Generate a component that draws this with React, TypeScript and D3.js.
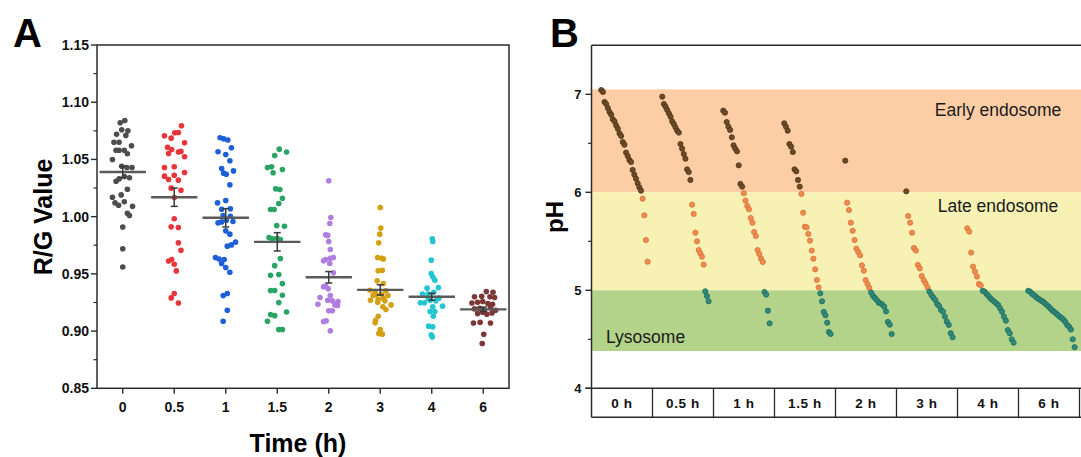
import React from "react";
import * as d3 from "d3";

// ---------- Panel A data ----------
const timeCategories = ["0", "0.5", "1", "1.5", "2", "3", "4", "6"];
// each point: [horizontal jitter (fraction of band), R/G value]
const rg0: [number, number][] = [[-0.05,1.082],[0.04,1.084],[-0.02,1.076],[0.10,1.075],[-0.12,1.072],[0.06,1.071],[-0.17,1.065],[-0.07,1.065],[0.17,1.062],[-0.13,1.058],[-0.07,1.058],[0.03,1.058],[0.09,1.055],[-0.20,1.050],[-0.02,1.044],[0.08,1.043],[0.18,1.043],[-0.13,1.031],[-0.07,1.033],[0.03,1.035],[0.13,1.034],[0.09,1.024],[-0.20,1.017],[-0.03,1.019],[-0.15,1.012],[-0.08,1.010],[0.03,1.013],[0.19,1.009],[0.09,1.003],[0.13,1.001],[0.00,0.991],[0.00,0.972],[0.00,0.956]];
const rg05: [number, number][] = [[0.14,1.0794],[-0.19,1.0707],[-0.06,1.0686],[0.01,1.0733],[0.08,1.0736],[0.20,1.0645],[-0.13,1.0607],[-0.05,1.0587],[-0.11,1.0552],[0.08,1.0564],[0.13,1.0570],[0.20,1.0523],[-0.19,1.0430],[0.00,1.0435],[-0.19,1.0354],[-0.11,1.0325],[0.00,1.0362],[0.08,1.0319],[0.20,1.0386],[-0.06,1.0249],[0.13,1.0231],[0.00,1.0167],[0.00,0.9981],[-0.06,0.9911],[0.08,0.9905],[0.08,0.9771],[0.13,0.9707],[-0.11,0.9613],[-0.05,0.9625],[0.00,0.9584],[0.04,0.9526],[0.00,0.9328],[-0.06,0.9290],[0.08,0.9246]];
const rg1: [number, number][] = [[-0.11,1.0689],[-0.04,1.068],[0.04,1.067],[0.11,1.0602],[-0.15,1.0567],[0.00,1.0543],[0.08,1.0488],[-0.08,1.042],[-0.04,1.038],[0.01,1.037],[0.15,1.040],[0.08,1.0278],[-0.16,1.012],[0.00,1.0141],[-0.08,1.0065],[0.09,1.0068],[-0.15,0.9946],[-0.08,0.9954],[0.01,0.9969],[0.14,0.9957],[0.09,1.0004],[-0.05,1.001],[0.00,0.9876],[0.08,0.9847],[0.03,0.9742],[0.11,0.9753],[0.19,0.9777],[-0.20,0.9642],[-0.13,0.963],[-0.08,0.959],[-0.03,0.9625],[0.00,0.9555],[0.08,0.9514],[-0.05,0.931],[0.03,0.9328],[0.03,0.9182],[-0.05,0.9086]];
const rg15: [number, number][] = [[0.04,1.059],[0.18,1.0564],[-0.05,1.0535],[-0.19,1.043],[-0.11,1.0435],[-0.08,1.0383],[0.10,1.0412],[-0.03,1.0243],[0.05,1.0237],[0.10,1.0161],[0.03,1.0115],[-0.13,1.0062],[-0.06,1.0062],[-0.01,0.9922],[0.14,0.9916],[-0.16,0.9817],[-0.09,0.9806],[0.00,0.9811],[0.06,0.98],[0.06,0.9634],[-0.05,0.9572],[-0.13,0.9488],[0.03,0.9494],[0.10,0.9415],[-0.13,0.9354],[-0.05,0.9354],[0.10,0.9313],[0.03,0.9249],[-0.13,0.9144],[-0.05,0.9135],[0.18,0.9167],[-0.19,0.9086],[0.03,0.9013],[0.10,0.9013]];
const rg2: [number, number][] = [[0.00,1.0314],[0.04,0.9993],[0.02,0.994],[-0.06,0.9841],[-0.02,0.9836],[0.00,0.9783],[0.03,0.9713],[-0.10,0.9614],[-0.06,0.9626],[0.03,0.9637],[0.09,0.9643],[0.02,0.9591],[0.09,0.9509],[-0.10,0.9387],[-0.06,0.9392],[-0.01,0.9369],[-0.17,0.9293],[0.03,0.931],[-0.02,0.927],[0.07,0.9264],[0.18,0.9258],[0.12,0.9229],[0.17,0.9223],[-0.21,0.9235],[0.00,0.9177],[0.07,0.9177],[-0.10,0.9083],[-0.05,0.909],[0.03,0.9002]];
const rg3: [number, number][] = [[0.00,1.008],[0.01,0.99],[-0.01,0.9847],[-0.03,0.9771],[-0.05,0.9643],[0.03,0.9637],[0.06,0.9631],[-0.04,0.9527],[0.04,0.9532],[-0.06,0.9439],[0.06,0.9416],[-0.20,0.9357],[-0.10,0.9346],[0.11,0.9352],[-0.14,0.9311],[-0.08,0.9317],[0.03,0.9322],[0.06,0.9287],[-0.19,0.927],[-0.04,0.9276],[0.15,0.9311],[-0.05,0.9253],[0.09,0.9264],[0.21,0.9229],[0.05,0.9212],[0.11,0.9188],[-0.04,0.913],[-0.09,0.9095],[-0.10,0.9072],[0.00,0.9013],[-0.03,0.8978],[0.04,0.8973]];
const rg4: [number, number][] = [[0.01,0.9806],[0.02,0.9783],[-0.01,0.962],[-0.01,0.9503],[0.02,0.9474],[0.06,0.9445],[-0.09,0.9375],[0.13,0.9381],[-0.18,0.9323],[-0.07,0.9323],[0.04,0.934],[-0.22,0.9247],[-0.14,0.9247],[-0.03,0.927],[0.08,0.9264],[0.14,0.9288],[-0.07,0.9288],[0.02,0.9212],[0.21,0.9218],[-0.03,0.9171],[0.06,0.9171],[0.03,0.913],[-0.06,0.9043],[0.02,0.9037],[-0.01,0.8967],[0.01,0.8949]];
const rg6: [number, number][] = [[0.06,0.9345],[0.19,0.934],[-0.17,0.9299],[-0.03,0.9305],[0.13,0.9299],[0.22,0.9293],[-0.22,0.9246],[-0.11,0.9252],[-0.01,0.9258],[0.09,0.924],[0.18,0.9235],[-0.17,0.9194],[-0.07,0.92],[0.02,0.9182],[0.14,0.9206],[0.24,0.9182],[-0.11,0.9153],[-0.01,0.9165],[0.07,0.9147],[0.17,0.9159],[-0.19,0.9071],[-0.06,0.9077],[0.14,0.9071],[0.01,0.8972],[-0.02,0.8891]];
const rgGroups = [rg0, rg05, rg1, rg15, rg2, rg3, rg4, rg6];
const rgMeans = [1.039, 1.017, 0.999, 0.978, 0.947, 0.936, 0.930, 0.919];
const rgSems = [0.005, 0.008, 0.008, 0.008, 0.005, 0.0045, 0.003, 0.002];
const rgTicks = [0.85, 0.9, 0.95, 1.0, 1.05, 1.1, 1.15];
const rgMinorTicks = [0.875, 0.925, 0.975, 1.025, 1.075, 1.125];

// ---------- Panel B data ----------
const timeLabelsB = ["0 h", "0.5 h", "1 h", "1.5 h", "2 h", "3 h", "4 h", "6 h"];
const ph0 = [7.044,7.024,6.922,6.901,6.860,6.819,6.792,6.745,6.724,6.683,6.649,6.602,6.575,6.513,6.486,6.405,6.370,6.330,6.309,6.228,6.180,6.139,6.092,6.051,6.017,5.935,5.765,5.513,5.292];
const ph05 = [6.976,6.901,6.874,6.840,6.806,6.772,6.724,6.697,6.663,6.629,6.609,6.493,6.445,6.391,6.343,6.234,6.207,6.126,5.874,5.779,5.588,5.500,5.411,5.377,5.343,5.262,4.990,4.942,4.888];
const ph1 = [6.833,6.813,6.717,6.670,6.636,6.561,6.479,6.445,6.418,6.275,6.085,6.058,5.990,5.915,5.860,5.826,5.738,5.690,5.595,5.554,5.411,5.370,5.323,5.289,4.983,4.956,4.792,4.663];
const ph15 = [6.704,6.670,6.629,6.493,6.466,6.411,6.234,6.214,6.126,6.058,5.983,5.792,5.649,5.643,5.575,5.507,5.405,5.323,5.214,5.105,5.030,4.969,4.888,4.779,4.745,4.670,4.575,4.554];
const ph2 = [6.323,5.894,5.819,5.690,5.608,5.513,5.425,5.391,5.357,5.255,5.200,5.105,5.064,5.024,4.976,4.942,4.922,4.901,4.874,4.867,4.854,4.833,4.785,4.677,4.649,4.554];
const ph3 = [6.010,5.758,5.690,5.588,5.432,5.405,5.259,5.224,5.146,5.105,5.071,5.031,4.987,4.953,4.926,4.902,4.861,4.841,4.800,4.783,4.732,4.681,4.647,4.562,4.521];
const ph4 = [5.633,5.599,5.385,5.242,5.191,5.140,5.065,5.051,4.995,4.986,4.962,4.942,4.918,4.901,4.884,4.867,4.850,4.816,4.782,4.731,4.690,4.595,4.561,4.500,4.466];
const ph6 = [4.995,4.986,4.965,4.952,4.935,4.918,4.908,4.894,4.884,4.867,4.850,4.833,4.813,4.795,4.780,4.765,4.748,4.731,4.717,4.700,4.677,4.646,4.629,4.600,4.500,4.420];
const phGroups = [ph0, ph05, ph1, ph15, ph2, ph3, ph4, ph6];
const phTicks = [4, 5, 6, 7];
const phMinorTicks = [4.5, 5.5, 6.5];
const zoneNames = ["Early endosome", "Late endosome", "Lysosome"];
const zoneRanges: [number, number][] = [[6, 7.05], [5, 6], [4.38, 5]];

// ---------- styles ----------
const FONT = "'Liberation Sans', Arial, Helvetica, sans-serif";
const groupColors = ["#4d4d4d", "#e8353a", "#1c5fd6", "#29a465", "#b07de0", "#d4a013", "#22c5d2", "#7c3838"];
const zoneColors = ["#fdcea6", "#f7f2b4", "#b3d38a"];
const phColor = (v: number) => (v >= 6 ? ["#6e4b26", "#4b3318"] : v >= 5 ? ["#f08c50", "#d8703a"] : ["#2f8b7b", "#1f6b5d"]);

export default function App() {
  // Panel A scales
  const leftA = 97, rightA = 509, topA = 45, bottomA = 388.3;
  const xA = d3.scaleBand<string>().domain(timeCategories).range([leftA, rightA]).padding(0);
  const yA = d3.scaleLinear().domain([0.85, 1.15]).range([bottomA, topA]);
  const bwA = xA.bandwidth();
  const cA = (i: number) => (xA(timeCategories[i]) as number) + bwA / 2;

  // Panel B scales
  const leftB = 591.5, segW = 61;
  const xB = d3.scaleBand<string>().domain(timeLabelsB).range([leftB, leftB + 8 * segW]).padding(0);
  const yB = d3.scaleLinear().domain([4, 7.5]).range([388.3, 45.3]);
  const bwB = xB.bandwidth();
  const frameRightB = 1095;
  const boxBottom = 417.3;
  const axisColor = "#2b2b2b";

  return (
    <svg width={1081} height={457} style={{ position: "absolute", left: 0, top: 0, background: "#fff" }} fontFamily={FONT}>
      {/* ================= Panel A ================= */}
      <text x={13} y={47} fontSize={40} fontWeight="bold" fill="#000">A</text>
      {rgGroups.map((pts, gi) =>
        pts.map(([off, v], k) => (
          <circle key={`a${gi}-${k}`} cx={cA(gi) + off * bwA} cy={yA(v)} r={2.8} fill={groupColors[gi]} />
        ))
      )}
      {rgMeans.map((m, i) => {
        const cx = cA(i);
        const hi = yA(m + rgSems[i]);
        const lo = yA(m - rgSems[i]);
        const hw = 0.45 * bwA;
        return (
          <g key={`m${i}`}>
            <line x1={cx - hw} x2={cx + hw} y1={yA(m)} y2={yA(m)} stroke="#5a5a5a" strokeWidth={2.4} />
            <line x1={cx} x2={cx} y1={hi} y2={lo} stroke="#3a3a3a" strokeWidth={1.5} />
            <line x1={cx - 3.5} x2={cx + 3.5} y1={hi} y2={hi} stroke="#3a3a3a" strokeWidth={1.5} />
            <line x1={cx - 3.5} x2={cx + 3.5} y1={lo} y2={lo} stroke="#3a3a3a" strokeWidth={1.5} />
          </g>
        );
      })}
      <rect x={leftA} y={topA} width={rightA - leftA} height={bottomA - topA} fill="none" stroke={axisColor} strokeWidth={1.5} />
      {rgTicks.map((t) => (
        <g key={`ya${t}`}>
          <line x1={leftA - 6} x2={leftA} y1={yA(t)} y2={yA(t)} stroke={axisColor} strokeWidth={1.4} />
          <text x={leftA - 8} y={yA(t) + 5} fontSize={14} fontWeight="bold" textAnchor="end" fill="#111">
            {d3.format(".2f")(t)}
          </text>
        </g>
      ))}
      {rgMinorTicks.map((t) => (
        <line key={`yam${t}`} x1={leftA - 3.5} x2={leftA} y1={yA(t)} y2={yA(t)} stroke={axisColor} strokeWidth={1.2} />
      ))}
      {timeCategories.map((c, i) => (
        <g key={`xa${c}`}>
          <line x1={cA(i)} x2={cA(i)} y1={bottomA} y2={bottomA + 5.5} stroke={axisColor} strokeWidth={1.4} />
          <text x={cA(i)} y={411.5} fontSize={14} fontWeight="bold" textAnchor="middle" fill="#111">{c}</text>
        </g>
      ))}
      <text transform="translate(52,217) rotate(-90)" fontSize={25} fontWeight="bold" textAnchor="middle" fill="#000">R/G Value</text>
      <text x={298} y={452} fontSize={25} fontWeight="bold" textAnchor="middle" fill="#000">Time (h)</text>

      {/* ================= Panel B ================= */}
      <text x={550} y={47} fontSize={40} fontWeight="bold" fill="#000">B</text>
      {zoneRanges.map(([a, b], i) => (
        <rect key={`z${i}`} x={leftB} y={yB(b)} width={frameRightB - leftB} height={yB(a) - yB(b)} fill={zoneColors[i]} />
      ))}
      <text x={998} y={116} fontSize={17.5} textAnchor="middle" fill="#1a1a1a">{zoneNames[0]}</text>
      <text x={998} y={212} fontSize={17.5} textAnchor="middle" fill="#1a1a1a">{zoneNames[1]}</text>
      <text x={606} y={343} fontSize={17.5} fill="#1a1a1a">{zoneNames[2]}</text>
      {phGroups.map((vals, gi) => {
        const x0 = xB(timeLabelsB[gi]) as number;
        const xr = d3.scaleLinear().domain([0, vals.length - 1]).range([x0 + 0.16 * bwB, x0 + 0.92 * bwB]);
        return vals.map((v, k) => {
          const [f, s] = phColor(v);
          return <circle key={`b${gi}-${k}`} cx={xr(k)} cy={yB(v)} r={2.6} fill={f} stroke={s} strokeWidth={0.8} />;
        });
      })}
      {/* frame */}
      <line x1={leftB} x2={leftB} y1={45.3} y2={boxBottom} stroke={axisColor} strokeWidth={1.5} />
      <line x1={leftB} x2={frameRightB} y1={45.3} y2={45.3} stroke={axisColor} strokeWidth={1.5} />
      <line x1={leftB - 6} x2={frameRightB} y1={yB(4)} y2={yB(4)} stroke={axisColor} strokeWidth={1.5} />
      <line x1={leftB} x2={frameRightB} y1={boxBottom} y2={boxBottom} stroke={axisColor} strokeWidth={1.5} />
      {timeLabelsB.map((lab) => {
        const x0 = xB(lab) as number;
        return (
          <g key={`xb${lab}`}>
            <line x1={x0 + bwB} x2={x0 + bwB} y1={yB(4)} y2={boxBottom} stroke={axisColor} strokeWidth={1.3} />
            <text x={x0 + bwB / 2} y={408} fontSize={13.5} fontWeight="bold" textAnchor="middle" letterSpacing={0.6} fill="#111">{lab}</text>
          </g>
        );
      })}
      {phTicks.map((t) => (
        <g key={`yb${t}`}>
          <line x1={leftB - 6} x2={leftB} y1={yB(t)} y2={yB(t)} stroke={axisColor} strokeWidth={1.4} />
          <text x={leftB - 10} y={yB(t) + 4.5} fontSize={13} fontWeight="bold" textAnchor="end" fill="#111">{t}</text>
        </g>
      ))}
      {phMinorTicks.map((t) => (
        <line key={`ybm${t}`} x1={leftB - 3.5} x2={leftB} y1={yB(t)} y2={yB(t)} stroke={axisColor} strokeWidth={1.2} />
      ))}
      <text transform="translate(563,217) rotate(-90)" fontSize={24} fontWeight="bold" textAnchor="middle" fill="#000">pH</text>
    </svg>
  );
}
